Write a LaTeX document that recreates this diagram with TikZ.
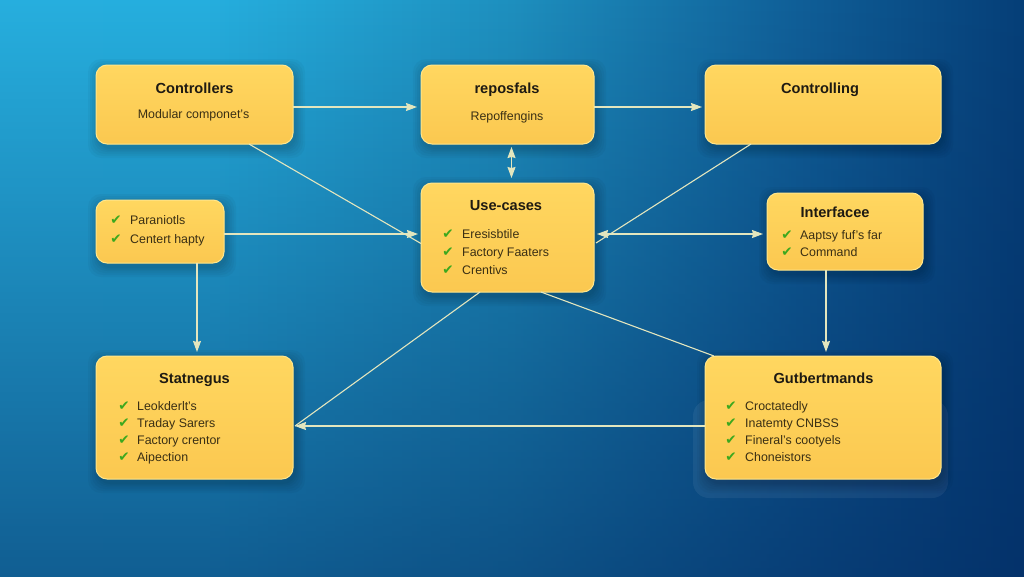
\documentclass[tikz,border=0pt]{standalone}
\usepackage{fontspec}
\setmainfont{Liberation Sans}
\newfontfamily\symfont{DejaVu Sans}
\usetikzlibrary{arrows.meta,calc,fadings}
\definecolor{bgA}{HTML}{27B0DF}
\definecolor{bgB}{HTML}{26B0DF}
\definecolor{bgC}{HTML}{1E90BF}
\definecolor{bgD}{HTML}{105F98}
\definecolor{bgE}{HTML}{063F78}
\definecolor{veil}{HTML}{032A62}
\definecolor{boxTop}{HTML}{FFD760}
\definecolor{boxBot}{HTML}{FBC850}
\definecolor{boxEdge}{HTML}{FFE68C}
\definecolor{wire}{HTML}{E3E6BE}
\definecolor{tick}{HTML}{3CA81E}
\definecolor{ink}{HTML}{1E1A12}
\definecolor{inkB}{HTML}{3A2F14}
\pgfdeclarehorizontalshading{bgshade}{100bp}{color(0bp)=(bgA); color(25bp)=(bgA); color(35bp)=(bgB); color(50bp)=(bgC); color(64bp)=(bgD); color(75bp)=(bgE); color(100bp)=(bgE)}
\tikzset{
  card/.style={draw=boxEdge,line width=1pt,rounded corners=11pt,top color=boxTop,bottom color=boxBot,inner sep=0pt,outer sep=0pt},
  title/.style={font=\fontsize{14.6}{16}\selectfont\bfseries,text=ink,inner sep=0pt,anchor=base},
  sub/.style={font=\fontsize{12.4}{14}\selectfont,text=inkB,inner sep=0pt,anchor=base},
  item/.style={sub,anchor=base west},
  tickmark/.style={font=\symfont\fontsize{13.5}{14}\selectfont,text=tick,inner sep=0pt,anchor=base},
  wireline/.style={draw=wire,line width=1.1pt},
  wirearrow/.style={wireline,-{Stealth[length=11pt,width=8pt,inset=1pt]}},
  wireboth/.style={wireline,{Stealth[length=11pt,width=8pt,inset=1pt]}-{Stealth[length=11pt,width=8pt,inset=1pt]}}
}
\newcommand{\ybox}[5]{%
  \foreach \g in {10,8,6,4,2.5,1}{%
    \fill[black,opacity=.03,rounded corners=13pt] (#2+2-\g,#3+4-\g) rectangle (#4+2+\g,#5+4+\g);
  }%
  \node[card,minimum width={(#4-#2)*1pt},minimum height={(#5-#3)*1pt}] (#1) at ({(#2+#4)/2},{(#3+#5)/2}) {};
}
\begin{document}
\begin{tikzpicture}[x=1pt,y=-1pt]
\useasboundingbox (0,0) rectangle (1024,576);
\begin{scope}
\clip (0,0) rectangle (1024,576);
\shade[shading=bgshade] (0,0) rectangle (1024,576);
\fill[veil,fill opacity=.62,path fading=north] (-6,-6) rectangle (1030,584);
\end{scope}
% halo behind the lower right card
\fill[white,opacity=.06,rounded corners=16pt] (693,400) rectangle (948,498);
% cards
\ybox{ctrl}{96}{65}{293}{144}
\ybox{repo}{421}{65}{594}{144}
\ybox{cing}{705}{65}{941}{144}
\ybox{para}{96}{200}{224}{263}
\ybox{uses}{421}{183}{594}{292}
\ybox{intf}{767}{193}{923}{270}
\ybox{stat}{96}{356}{293}{479}
\ybox{gutb}{705}{356}{941}{479}
% connectors
\draw[wirearrow] ([yshift=-2.5pt]ctrl.east) -- ([xshift=-4pt,yshift=-2.5pt]repo.west);
\draw[wirearrow] ([yshift=-2.5pt]repo.east) -- ([xshift=-3pt,yshift=-2.5pt]cing.west);
\draw[wireline] ([xshift=54.5pt]ctrl.south) -- ([yshift=-6pt]uses.west);
\draw[wireline] ([xshift=-72pt]cing.south) -- ([xshift=2pt,yshift=-5.5pt]uses.east);
\draw[wirearrow] ([yshift=-2.5pt]para.east) -- ([xshift=-3pt,yshift=3.5pt]uses.west);
\draw[wireboth] ([xshift=3pt,yshift=3.5pt]uses.east) -- ([xshift=-4pt,yshift=-2.5pt]intf.west);
\draw[wireboth] ([xshift=4pt,yshift=-3pt]repo.south) -- ([xshift=4pt,yshift=5pt]uses.north);
\draw[wirearrow] ([xshift=37pt]para.south) -- ([xshift=2.5pt,yshift=4pt]stat.north);
\draw[wirearrow] ([xshift=-19pt]intf.south) -- ([xshift=3pt,yshift=4pt]gutb.north);
\draw[wireline] ([xshift=-27.5pt]uses.south) -- ([xshift=2pt,yshift=-8.5pt]stat.east);
\draw[wirearrow] ([yshift=-8.5pt]gutb.west) -- ([xshift=2pt,yshift=-8.5pt]stat.east);
\draw[wireline] ([xshift=33.5pt]uses.south) -- ([xshift=-109pt]gutb.north);
% texts
\node[title] (tctrl) at (194.5,93) {Controllers};
\node[sub] (sctrl) at (193.5,118) {Modular componet's};
\node[title] (trepo) at (507,93) {reposfals};
\node[sub] (srepo) at (507,120) {Repoffengins};
\node[title] (tcing) at (820,93) {Controlling};
\node[tickmark] (p1c) at (116,224) {✔};
\node[item] (p1) at (130,224) {Paraniotls};
\node[tickmark] (p2c) at (116,243.5) {✔};
\node[item] (p2) at (130,243.5) {Centert hapty};
\node[title] (tuses) at (506,210) {Use-cases};
\node[tickmark] (u1c) at (448,238.5) {✔};
\node[item] (u1) at (462,238.5) {Eresisbtile};
\node[tickmark] (u2c) at (448,256) {✔};
\node[item] (u2) at (462,256) {Factory Faaters};
\node[tickmark] (u3c) at (448,274) {✔};
\node[item] (u3) at (462,274) {Crentivs};
\node[title] (tintf) at (835,217) {Interfacee};
\node[tickmark] (i1c) at (787,239) {✔};
\node[item] (i1) at (800,239) {Aaptsy fuf's far};
\node[tickmark] (i2c) at (787,256.5) {✔};
\node[item] (i2) at (800,256.5) {Command};
\node[title] (tstat) at (194.5,383) {Statnegus};
\node[tickmark] (s1c) at (124,410) {✔};
\node[item] (s1) at (137,410) {Leokderlt's};
\node[tickmark] (s2c) at (124,427) {✔};
\node[item] (s2) at (137,427) {Traday Sarers};
\node[tickmark] (s3c) at (124,444) {✔};
\node[item] (s3) at (137,444) {Factory crentor};
\node[tickmark] (s4c) at (124,461) {✔};
\node[item] (s4) at (137,461) {Aipection};
\node[title] (tgutb) at (823.5,383) {Gutbertmands};
\node[tickmark] (g1c) at (731,410) {✔};
\node[item] (g1) at (745,410) {Croctatedly};
\node[tickmark] (g2c) at (731,427) {✔};
\node[item] (g2) at (745,427) {Inatemty CNBSS};
\node[tickmark] (g3c) at (731,444) {✔};
\node[item] (g3) at (745,444) {Fineral's cootyels};
\node[tickmark] (g4c) at (731,461) {✔};
\node[item] (g4) at (745,461) {Choneistors};
\end{tikzpicture}
\end{document}
